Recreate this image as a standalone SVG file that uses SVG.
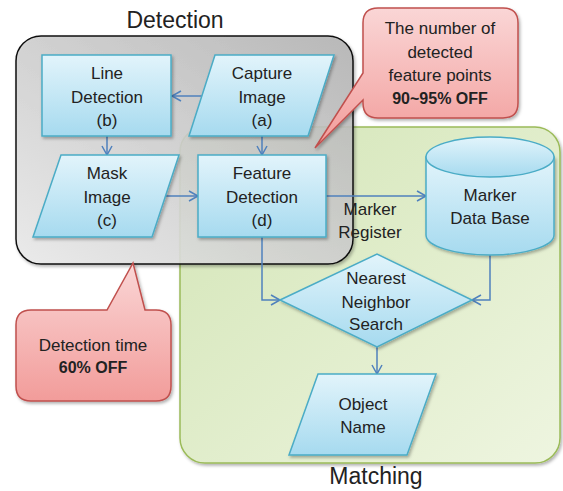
<svg xmlns="http://www.w3.org/2000/svg" width="563" height="491" viewBox="0 0 563 491">
<defs>
<linearGradient id="gGray" x1="1" y1="0" x2="0" y2="1">
<stop offset="0" stop-color="#b4b4b4"/>
<stop offset="1" stop-color="#ececec"/>
</linearGradient>
<linearGradient id="gGreen" x1="0" y1="0" x2="1" y2="1">
<stop offset="0" stop-color="#d3e5b6"/>
<stop offset="1" stop-color="#eef5e0"/>
</linearGradient>
<linearGradient id="gBlue" x1="0" y1="0" x2="0" y2="1">
<stop offset="0" stop-color="#e2f4fb"/>
<stop offset="1" stop-color="#a6daef"/>
</linearGradient>
<linearGradient id="gRed" x1="0" y1="0" x2="0" y2="1">
<stop offset="0" stop-color="#fad6d6"/>
<stop offset="1" stop-color="#f29c9a"/>
</linearGradient>
<filter id="sh" x="-10%" y="-10%" width="130%" height="130%">
<feDropShadow dx="1.5" dy="2" stdDeviation="1.5" flood-color="#000" flood-opacity="0.3"/>
</filter>
<marker id="arr" markerUnits="userSpaceOnUse" markerWidth="12" markerHeight="12" refX="10" refY="6" orient="auto">
<path d="M1,1 L10,6 L1,11" fill="none" stroke="#4f81bd" stroke-width="1.5"/>
</marker>
</defs>
<style>
.t{font-family:"Liberation Sans",Arial,sans-serif;font-size:17px;fill:#222;text-anchor:middle}
.b{font-weight:bold;font-size:16px}
.h{font-size:23px}
.node{fill:url(#gBlue);stroke:#4bacc6;stroke-width:1.5;filter:url(#sh)}
.call{fill:url(#gRed);stroke:#c0504d;stroke-width:1.5;filter:url(#sh)}
.c{fill:none;stroke:#4f81bd;stroke-width:1.5;marker-end:url(#arr)}
</style>
<rect width="563" height="491" fill="#fff"/>
<g id="matching">
<rect x="180" y="127" width="380" height="336" rx="25" fill="url(#gGreen)" stroke="#9bbb59" stroke-width="1.5" filter="url(#sh)"/>
<text class="t h" x="376" y="484">Matching</text>
</g>
<g id="detection">
<rect x="16" y="36" width="337" height="228" rx="25" fill="url(#gGray)" fill-opacity="0.88" stroke="#111" stroke-width="1.5" filter="url(#sh)"/>
<text class="t h" x="175" y="28">Detection</text>
</g>
<g id="connectors">
<path class="c" d="M203,96 L172,96"/>
<path class="c" d="M107,136 L107,155"/>
<path class="c" d="M262,136 L262,155"/>
<path class="c" d="M166,196 L198,196"/>
<path class="c" d="M326,196 L426,196"/>
<path class="c" d="M262,237 L262,300 L280,300"/>
<path class="c" d="M490,255 L490,300 L472,300"/>
<path class="c" d="M377,347 L377,374"/>
</g>
<g id="line-detection">
<rect class="node" x="42" y="55" width="129" height="81"/>
<text class="t" x="107" y="79">Line</text>
<text class="t" x="107" y="103">Detection</text>
<text class="t" x="107" y="126">(b)</text>
</g>
<g id="capture-image">
<polygon class="node" points="215,55 334,55 308,136 189,136"/>
<text class="t" x="262" y="79">Capture</text>
<text class="t" x="262" y="103">Image</text>
<text class="t" x="262" y="126">(a)</text>
</g>
<g id="mask-image">
<polygon class="node" points="61,155 179,155 152,237 33,237"/>
<text class="t" x="107" y="179">Mask</text>
<text class="t" x="107" y="203">Image</text>
<text class="t" x="107" y="226">(c)</text>
</g>
<g id="feature-detection">
<rect class="node" x="198" y="155" width="128" height="82"/>
<text class="t" x="262" y="179">Feature</text>
<text class="t" x="262" y="203">Detection</text>
<text class="t" x="262" y="226">(d)</text>
</g>
<g id="marker-register">
<text class="t" x="370" y="215">Marker</text>
<text class="t" x="370" y="238">Register</text>
</g>
<g id="marker-db">
<path class="node" d="M426,157 V235 A64,20 0 0 0 554,235 V157 Z"/>
<ellipse cx="490" cy="157" rx="64" ry="20" fill="url(#gBlue)" stroke="#4bacc6" stroke-width="1.5"/>
<text class="t" x="490" y="201">Marker</text>
<text class="t" x="490" y="224">Data Base</text>
</g>
<g id="nearest-neighbor">
<polygon class="node" points="280,300 377,254 472,300 377,347"/>
<text class="t" x="376" y="284">Nearest</text>
<text class="t" x="376" y="308">Neighbor</text>
<text class="t" x="376" y="330">Search</text>
</g>
<g id="object-name">
<polygon class="node" points="318,374 436,374 407,455 289,455"/>
<text class="t" x="363" y="410">Object</text>
<text class="t" x="363" y="433">Name</text>
</g>
<g id="callout-feature">
<path class="call" d="M378,8 H503 Q518,8 518,23 V103 Q518,118 503,118 H378 Q363,118 363,103 V100 L315,148 L363,73 V23 Q363,8 378,8 Z"/>
<text class="t" x="440" y="34">The number of</text>
<text class="t" x="440" y="58">detected</text>
<text class="t" x="440" y="81">feature points</text>
<text class="t b" x="440" y="104">90~95% OFF</text>
</g>
<g id="callout-time">
<path class="call" d="M31,310 H107 L133,263 L145,310 H156 Q171,310 171,325 V386 Q171,401 156,401 H31 Q16,401 16,386 V325 Q16,310 31,310 Z"/>
<text class="t" x="93" y="351">Detection time</text>
<text class="t b" x="93" y="373">60% OFF</text>
</g>
</svg>
